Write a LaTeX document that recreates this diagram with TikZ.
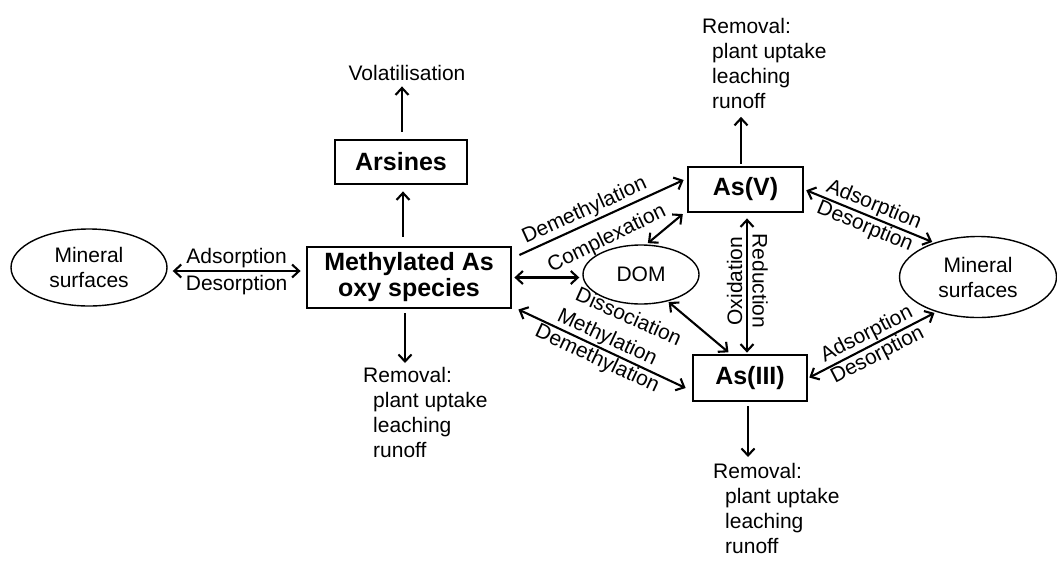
\documentclass[tikz,border=0pt]{standalone}
\usepackage{fontspec}
\setmainfont{Liberation Sans}
\usetikzlibrary{arrows.meta,shapes.geometric,calc}
\begin{document}
\begin{tikzpicture}[x=1pt,y=-1pt,
  lbl/.style={font=\fontsize{21}{25}\selectfont, inner sep=1pt},
  box/.style={draw, line width=2.8pt, font=\fontsize{25}{26}\selectfont\bfseries, inner sep=0pt, align=center},
  oval/.style={draw, ellipse, line width=1.4pt, inner sep=0pt, font=\fontsize{21}{25}\selectfont, align=center},
  con/.style={line width=2.1pt},
  arr/.style={con, -{Straight Barb[length=7pt,width=13pt]}},
  dbl/.style={con, {Straight Barb[length=7pt,width=13pt]}-{Straight Barb[length=7pt,width=13pt]}},
  rem/.style={font=\fontsize{21}{25}\selectfont, align=left, anchor=north west, inner sep=0pt},
]
\useasboundingbox (0,0) rectangle (1057,574);

% nodes
\node[oval, minimum width=156pt, minimum height=77pt] (minL) at (89,267.5) {Mineral\\surfaces};
\node[box, minimum width=204pt, minimum height=61pt] (meth) at (409,277.5) {Methylated As\\oxy species};
\node[box, minimum width=132pt, minimum height=44pt] (ars) at (401,162) {Arsines};
\node[lbl] (vol) at (407,72.5) {Volatilisation};
\node[box, minimum width=115pt, minimum height=45pt] (asv) at (745.5,189.5) {As(V)};
\node[box, minimum width=114pt, minimum height=46pt] (asiii) at (750,378) {As(III)};
\node[oval, minimum width=116pt, minimum height=59pt] (dom) at (641,274.5) {DOM};
\node[oval, minimum width=157pt, minimum height=81pt] (minR) at (978,277) {Mineral\\surfaces};

\node[rem] (remV) at (702,18) {Removal:\\\hspace*{10pt}plant uptake\\\hspace*{10pt}leaching\\\hspace*{10pt}runoff};
\node[rem] (remIII) at (713,463) {Removal:\\\hspace*{12pt}plant uptake\\\hspace*{12pt}leaching\\\hspace*{12pt}runoff};
\node[rem] (remM) at (363,367) {Removal:\\\hspace*{10pt}plant uptake\\\hspace*{10pt}leaching\\\hspace*{10pt}runoff};

% free labels
\node[lbl, rotate=26] (cpx) at (607,239) {Complexation};
\node[lbl, rotate=-24] (dis) at (629,316) {Dissociation};
\node[lbl, rotate=90] (oxi) at (734.5,281) {Oxidation};
\node[lbl, rotate=-90] (red) at (760,281) {Reduction};

% connectors
\draw[arr, shorten <=9pt, shorten >=6pt] ([xshift=-6pt]meth.north) -- ([xshift=2pt]ars.south);
\draw[arr, shorten <=7pt, shorten >=5pt] ([xshift=1pt]ars.north) -- ([xshift=-5pt]vol.south);

\draw[dbl, shorten <=5pt, shorten >=5pt] ([yshift=-3.5pt]minL.east) -- ([yshift=6.5pt]meth.west)
  node[lbl, midway, above=1pt] {Adsorption}
  node[lbl, midway, below=2pt] {Desorption};

\draw[arr] ([xshift=7pt,yshift=22.5pt]meth.east) -- ([xshift=-3pt,yshift=9.5pt]asv.west)
  node[lbl, pos=0.43, sloped, above=1pt] {Demethylation};

\draw[dbl, shorten <=2pt, shorten >=3pt] (meth.east) -- (meth.east -| dom.west);

\draw[dbl, shorten <=2pt, shorten >=1pt] (dom.80) -- ([xshift=-3pt]asv.south west);
\draw[dbl, shorten <=1pt, shorten >=2pt] (dom.-45) -- ([xshift=-20pt]asiii.north);

\draw[dbl] ([xshift=6pt,yshift=-32pt]meth.east) -- ([xshift=-6pt,yshift=-10pt]asiii.west)
  node[lbl, midway, sloped, above=0pt] {Methylation}
  node[lbl, midway, sloped, below=0pt] {Demethylation};

\draw[dbl, shorten <=5pt, shorten >=1pt] ([xshift=1.5pt]asv.south) -- ([xshift=-3pt]asiii.north);

\draw[dbl, shorten <=2pt, shorten >=2pt] (asv.east) -- (minR.142)
  node[lbl, midway, sloped, above=0pt] {Adsorption}
  node[lbl, midway, sloped, below=0pt] {Desorption};
\draw[dbl, shorten <=1pt, shorten >=2pt] (asiii.east) -- (minR.220)
  node[lbl, midway, sloped, above=0pt] {Adsorption}
  node[lbl, midway, sloped, below=0pt] {Desorption};

\coordinate (mS) at ([xshift=-4pt]meth.south);
\draw[arr, shorten <=4pt, shorten >=4pt] (mS) -- (mS |- remM.north);
\coordinate (vN) at ([xshift=-4.5pt]asv.north);
\draw[arr, shorten <=2pt, shorten >=8pt] (vN) -- (vN |- remV.south);
\coordinate (iS) at ([xshift=-2pt]asiii.south);
\draw[arr, shorten <=4pt, shorten >=6pt] (iS) -- (iS |- remIII.north);
\end{tikzpicture}
\end{document}
